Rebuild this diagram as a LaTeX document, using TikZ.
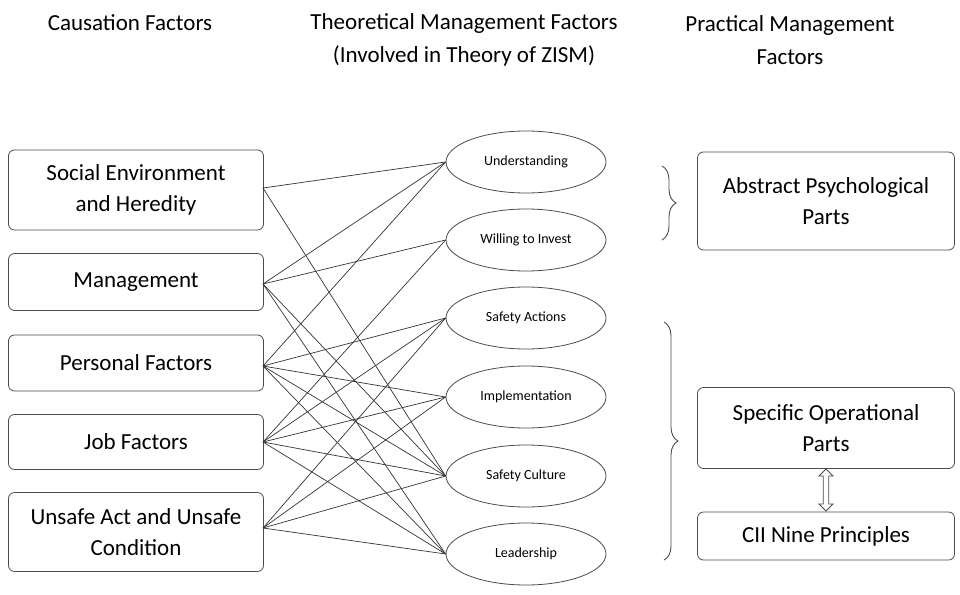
\documentclass[tikz,border=0pt]{standalone}
\usepackage{fontspec}
\setmainfont{Carlito}
\usetikzlibrary{shapes.geometric,shapes.arrows,decorations.pathreplacing,arrows.meta}
\begin{document}
\begin{tikzpicture}[x=1pt,y=-1pt,
 box/.style={draw=black!70,rounded corners=6pt,line width=0.8pt,align=center,font=\fontsize{23}{31}\selectfont},
 ell/.style={draw=black!70,ellipse,line width=0.8pt,minimum width=160pt,minimum height=62pt,font=\fontsize{14}{16}\selectfont},
 hd/.style={align=center,font=\fontsize{23}{33}\selectfont},
 ln/.style={black!80,line width=0.7pt},
 br/.style={decorate,decoration={brace,amplitude=14pt},line width=0.9pt,black!70}]
\useasboundingbox (0,0) rectangle (960,594);
\node[hd] (h1) at (130,23) {Causation Factors};
\node[hd] (h2) at (464,40) {Theoretical Management Factors\\(Involved in Theory of ZISM)};
\node[hd] (h3) at (790,40) {Practical Management\\Factors};
\node[box,minimum width=255pt,minimum height=80pt] (b1) at (136,190) {Social Environment\\and Heredity};
\node[box,minimum width=255pt,minimum height=57pt] (b2) at (136,282) {Management};
\node[box,minimum width=255pt,minimum height=56pt] (b3) at (136,363) {Personal Factors};
\node[box,minimum width=255pt,minimum height=55pt] (b4) at (136,442) {Job Factors};
\node[box,minimum width=255pt,minimum height=79pt] (b5) at (136,532) {Unsafe Act and Unsafe\\Condition};
\node[ell] (e1) at (526,162) {Understanding};
\node[ell] (e2) at (526,240) {Willing to Invest};
\node[ell] (e3) at (526,318) {Safety Actions};
\node[ell] (e4) at (526,397) {Implementation};
\node[ell] (e5) at (526,476) {Safety Culture};
\node[ell] (e6) at (526,554) {Leadership};
\node[box,minimum width=257pt,minimum height=98pt] (r1) at (826,201) {Abstract Psychological\\Parts};
\node[box,minimum width=257pt,minimum height=81pt] (r2) at (826,428) {Specific Operational\\Parts};
\node[box,minimum width=257pt,minimum height=48pt] (r3) at (826,536) {CII Nine Principles};
\foreach \b/\y in {b1/188,b2/284,b3/366,b4/442,b5/528}{\coordinate (\b p) at (263,\y);}
\foreach \e in {e1,e2,e3,e4,e5,e6}{\coordinate (\e p) at (\e.west);}
\foreach \b/\e in {b1/e1,b1/e5,b2/e1,b2/e2,b2/e5,b2/e6,b3/e1,b3/e3,b3/e4,b3/e5,b3/e6,b4/e2,b4/e3,b4/e4,b4/e5,b4/e6,b5/e3,b5/e4,b5/e5,b5/e6}
 \draw[ln] (\b p) -- (\e p);
\coordinate (t1) at (662,166); \coordinate (t2) at (662,240);
\draw[br] (t1) -- (t2);
\coordinate (t3) at (664,322); \coordinate (t4) at (664,560);
\draw[br] (t3) -- (t4);
\node[draw=black!70,line width=0.8pt,double arrow,rotate=90,minimum height=42pt,minimum width=14pt,inner sep=1.5pt,double arrow head extend=3pt] (da) at (826,490) {};
\end{tikzpicture}
\end{document}
